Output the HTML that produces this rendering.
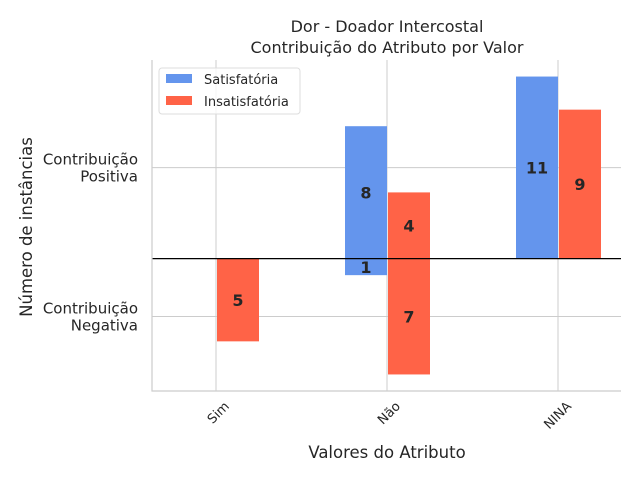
<!DOCTYPE html>
<html><head><meta charset="utf-8"><style>
body{margin:0;background:#fff;}
text{font-family:"DejaVu Sans","Liberation Sans",sans-serif;}
</style></head><body>
<svg id="chart" width="640" height="480" xmlns="http://www.w3.org/2000/svg">
<rect width="640" height="480" fill="#fff"/>
<g id="plot"></g>
</svg>
<script>
const categories=["Sim","Não","NINA"];
const satisf=[0,8,11];
const satisfNeg=[0,1,0];
const insatPos=[0,4,9];
const insatNeg=[5,7,0];
const yTickVals=[5.5,-3.5];
const yTickLabels=[["Contribuição","Positiva"],["Contribuição","Negativa"]];
const L=152,R=621,T=60,B=391,ymin=-8,ymax=12;
const NS="http://www.w3.org/2000/svg";
const g=document.getElementById('plot');
const y=v=>T+(ymax-v)/(ymax-ymin)*(B-T);
const x=i=>216+i*171;
function el(t,a,txt){const e=document.createElementNS(NS,t);for(const k in a)e.setAttribute(k,a[k]);if(txt!==undefined)e.textContent=txt;g.appendChild(e);return e;}
categories.forEach((c,i)=>{const e=el('line',{x1:x(i),x2:x(i),y1:T,y2:B,stroke:'#cccccc','stroke-width':1});

});
yTickVals.forEach((v,i)=>{const e=el('line',{x1:L,x2:R,y1:y(v),y2:y(v),stroke:'#cccccc','stroke-width':1});


const t=el('text',{x:138,y:y(v)-3,'text-anchor':'end','font-size':15,fill:'#262626'});


yTickLabels[i].forEach((s,j)=>{const ts=document.createElementNS(NS,'tspan');ts.setAttribute('x',138);ts.setAttribute('dy',j?17:0);ts.textContent=s;t.appendChild(ts);});});
const W=42;
function bar(xl,v0,v1,col,label,name){
 if(v0===v1)return;
 const r=el('rect',{x:xl,y:y(Math.max(v0,v1)),width:W,height:Math.abs(y(v0)-y(v1)),fill:col});
 
 
 const t=el('text',{x:xl+W/2,y:(y(v0)+y(v1))/2+6,'text-anchor':'middle','font-size':16,'font-weight':'bold',fill:'#262626'},label);
 
 
}
categories.forEach((c,i)=>{
 bar(x(i)-W,0,satisf[i],'#6495ed',satisf[i],'bar-satisfatoria-pos');
 bar(x(i)-W,0,-satisfNeg[i],'#6495ed',satisfNeg[i],'bar-satisfatoria-neg');
 bar(x(i)+1,0,insatPos[i],'#ff6347',insatPos[i],'bar-insatisfatoria-pos');
 bar(x(i)+1,0,-insatNeg[i],'#ff6347',insatNeg[i],'bar-insatisfatoria-neg');
 const t=el('text',{x:0,y:0,'text-anchor':'end','font-size':13,fill:'#262626',transform:`translate(${x(i)+14},${407}) rotate(-45)`},c);
 
 
});
const z=el('line',{x1:L,x2:R,y1:y(0),y2:y(0),stroke:'#000','stroke-width':1.2});


const ax=el('path',{d:`M${L},${T} V${B} H${R}`,fill:'none',stroke:'#cccccc','stroke-width':1.2});


</script>
<script>
const s=document.getElementById('chart');
s.insertAdjacentHTML('beforeend',`
<text x="387" y="32" text-anchor="middle" font-size="16" fill="#262626">Dor - Doador Intercostal</text>
<text x="387" y="53" text-anchor="middle" font-size="16" fill="#262626">Contribuição do Atributo por Valor</text>
<text x="387" y="458" text-anchor="middle" font-size="16.5" fill="#262626">Valores do Atributo</text>
<text transform="translate(32,227) rotate(-90)" text-anchor="middle" font-size="16.5" fill="#262626">Número de instâncias</text>
<g>
<rect x="159" y="68" width="141" height="46" rx="3" fill="#fff" fill-opacity="0.8" stroke="#dddddd"/>
<rect x="166" y="74" width="26" height="9" fill="#6495ed"/>
<text x="204" y="84" font-size="13" fill="#262626">Satisfatória</text>
<rect x="166" y="96" width="26" height="9" fill="#ff6347"/>
<text x="204" y="106" font-size="13" fill="#262626">Insatisfatória</text>
</g>`);
</script>
</body></html>
